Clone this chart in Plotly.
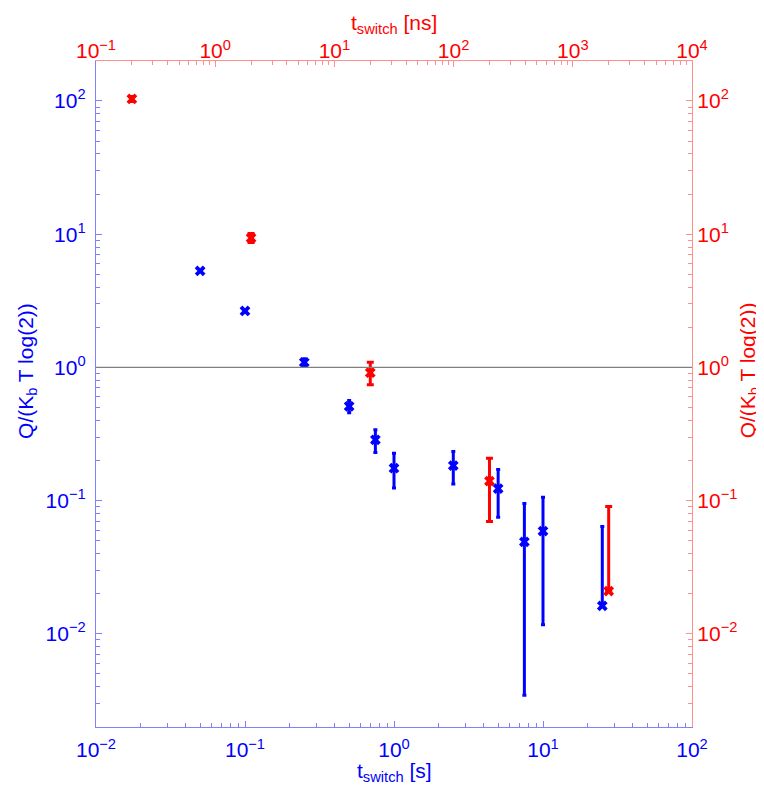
import plotly.graph_objects as go

# ---- data ----
blue_t = [0.05, 0.1, 0.25, 0.5, 0.75, 1.0, 2.5, 5.0, 7.5, 10.0, 25.0]          # t_switch [s]
blue_q = [5.3, 2.65, 1.09, 0.51, 0.286, 0.175, 0.183, 0.123, 0.049, 0.059, 0.0162]
blue_hi = [5.3, 2.65, 1.16, 0.565, 0.34, 0.227, 0.234, 0.171, 0.095, 0.106, 0.064]
blue_lo = [5.3, 2.65, 1.02, 0.457, 0.23, 0.124, 0.133, 0.075, 0.00346, 0.0117, 0.0162]

red_t = [0.2, 2.0, 20.0, 200.0, 2000.0]                                          # t_switch [ns]
red_q = [103.5, 9.36, 0.912, 0.14, 0.0209]
red_hi = [108.0, 10.1, 1.09, 0.208, 0.0904]
red_lo = [99.0, 8.64, 0.741, 0.0697, 0.0209]

x_bottom_decades = [-2, -1, 0, 1, 2]
x_top_decades = [-1, 0, 1, 2, 3, 4]
y_decades = [-2, -1, 0, 1, 2]

BLUE = "#0000ff"
RED = "#ff0000"
BLUE_AX = "#8080ff"
RED_AX = "#ff9090"
FONT = "Liberation Sans, Arial, sans-serif"


def sup_label(d):
    s = str(d).replace("-", "\u2212")
    return f"10<sup>{s}</sup>"


def minor_vals(lo, hi):
    vals = []
    for d in range(lo, hi + 1):
        for k in range(2, 10):
            vals.append(k * 10 ** d)
    return vals


blue_plus = [h - q for h, q in zip(blue_hi, blue_q)]
blue_minus = [q - l for q, l in zip(blue_q, blue_lo)]
red_plus = [h - q for h, q in zip(red_hi, red_q)]
red_minus = [q - l for q, l in zip(red_q, red_lo)]

fig = go.Figure()

fig.add_trace(go.Scatter(
    x=blue_t, y=blue_q, mode="markers", xaxis="x", yaxis="y",
    marker=dict(symbol="x", size=9.5, color=BLUE, line=dict(width=0)),
    error_y=dict(type="data", symmetric=False, array=blue_plus, arrayminus=blue_minus,
                 color=BLUE, thickness=3, width=2),
    showlegend=False,
))
fig.add_trace(go.Scatter(
    x=red_t, y=red_q, mode="markers", xaxis="x2", yaxis="y2",
    marker=dict(symbol="x", size=9.5, color=RED, line=dict(width=0)),
    error_y=dict(type="data", symmetric=False, array=red_plus, arrayminus=red_minus,
                 color=RED, thickness=3, width=3.5),
    showlegend=False,
))

fig.add_shape(type="line", xref="paper", yref="y", x0=0, x1=1, y0=1, y1=1,
              line=dict(color="#808080", width=1.3))

tickfont_b = dict(family=FONT, size=21, color=BLUE)
tickfont_r = dict(family=FONT, size=21, color=RED)

common = dict(type="log", showgrid=False, zeroline=False, showline=True, linewidth=1.3,
              ticks="inside", ticklen=6, tickwidth=1, tickmode="array")

fig.update_layout(
    width=756, height=781,
    margin=dict(l=88, r=72, t=53, b=62, pad=0),
    paper_bgcolor="white", plot_bgcolor="white",
    xaxis=dict(**common, range=[-2, 2], side="bottom", linecolor=BLUE_AX, tickcolor=BLUE_AX,
               tickvals=[10 ** d for d in x_bottom_decades],
               ticktext=[sup_label(d) for d in x_bottom_decades], tickfont=tickfont_b,
               ticklabelstandoff=4,
               minor=dict(ticks="inside", ticklen=3.5, tickcolor=BLUE_AX, tickmode="array",
                          tickvals=minor_vals(-2, 1))),
    xaxis2=dict(**common, range=[-1, 4], side="top", overlaying="x", anchor="y",
                linecolor=RED_AX, tickcolor=RED_AX,
                tickvals=[10 ** d for d in x_top_decades],
                ticktext=[sup_label(d) for d in x_top_decades], tickfont=tickfont_r,
                ticklabelstandoff=-7,
                minor=dict(ticks="inside", ticklen=3.5, tickcolor=RED_AX, tickmode="array",
                           tickvals=minor_vals(-1, 3))),
    yaxis=dict(**common, range=[-2.7, 2.3], side="left", linecolor=BLUE_AX, tickcolor=BLUE_AX,
               tickvals=[10 ** d for d in y_decades],
               ticktext=[sup_label(d) for d in y_decades], tickfont=tickfont_b,
               ticklabelstandoff=5,
               minor=dict(ticks="inside", ticklen=3.5, tickcolor=BLUE_AX, tickmode="array",
                          tickvals=minor_vals(-3, 2))),
    yaxis2=dict(**common, range=[-2.7, 2.3], side="right", overlaying="y", anchor="x",
                linecolor=RED_AX, tickcolor=RED_AX,
                tickvals=[10 ** d for d in y_decades],
                ticktext=[sup_label(d) for d in y_decades], tickfont=tickfont_r,
                minor=dict(ticks="inside", ticklen=3.5, tickcolor=RED_AX, tickmode="array",
                           tickvals=minor_vals(-3, 2))),
)

title_font_b = dict(family=FONT, size=21, color=BLUE)
title_font_r = dict(family=FONT, size=21, color=RED)

fig.add_annotation(text="t<sub>switch</sub> [s]", xref="paper", yref="paper", x=0.5, y=-0.068,
                   xanchor="center", yanchor="middle", showarrow=False, font=title_font_b)
fig.add_annotation(text="t<sub>switch</sub> [ns]", xref="paper", yref="paper", x=0.5, y=1.056,
                   xanchor="center", yanchor="middle", showarrow=False, font=title_font_r)
fig.add_annotation(text="Q/(K<sub>b</sub> T log(2))", xref="paper", yref="paper", x=-0.117, y=0.535,
                   xanchor="center", yanchor="middle", textangle=-90, showarrow=False, font=title_font_b)
fig.add_annotation(text="Q/(K<sub>b</sub> T log(2))", xref="paper", yref="paper", x=1.095, y=0.535,
                   xanchor="center", yanchor="middle", textangle=-90, showarrow=False, font=title_font_r)

fig.write_html("out.html")
